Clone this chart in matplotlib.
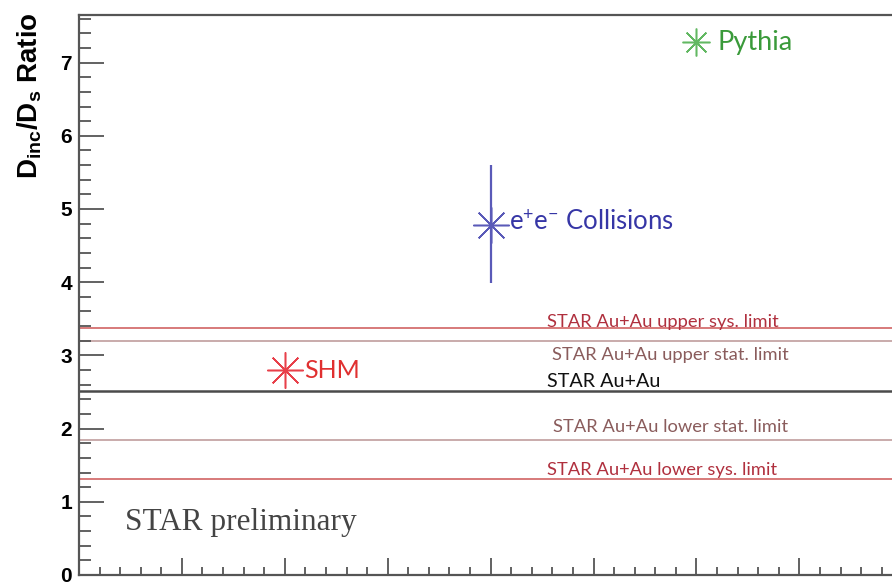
import matplotlib
matplotlib.use("Agg")
import matplotlib.pyplot as plt
from matplotlib.ticker import MultipleLocator, NullFormatter

plt.rcParams['mathtext.fontset'] = 'custom'
plt.rcParams['mathtext.rm'] = 'Lato'
plt.rcParams['mathtext.it'] = 'Lato:italic'
plt.rcParams['mathtext.bf'] = 'Liberation Sans:bold'

# ---- data ----
model_names = ["SHM", "e$^{+}$e$^{-}$ Collisions", "Pythia"]
model_x = [2.0, 4.0, 6.0]
model_y = [2.80, 4.78, 7.28]
model_err_lo = [0.0, 0.79, 0.0]
model_err_hi = [0.0, 0.82, 0.0]
model_colors = ["#e8404a", "#5a5ab8", "#62b862"]
model_text_colors = ["#e03030", "#3636a6", "#3a9a3a"]
model_marker_sizes = [26, 26, 20]

star_labels = ["STAR Au+Au upper sys. limit", "STAR Au+Au upper stat. limit",
               "STAR Au+Au", "STAR Au+Au lower stat. limit",
               "STAR Au+Au lower sys. limit"]
star_values = [3.37, 3.19, 2.51, 1.84, 1.31]
star_line_colors = ["#d77a7a", "#c9abab", "#4a4a4a", "#c9abab", "#d77a7a"]
star_text_colors = ["#b0303e", "#8a5c5c", "#111111", "#8a5c5c", "#b0303e"]
star_label_y = [3.39, 2.94, 2.57, 1.95, 1.37]
star_label_x = [4.55, 4.60, 4.55, 4.61, 4.55]
star_label_sizes = [13.2, 13.2, 14.2, 13.2, 13.2]

y_ticks = [0, 1, 2, 3, 4, 5, 6, 7]

fig = plt.figure(figsize=(8.92, 5.85), dpi=100)
ax = fig.add_axes([79/892, 10/585, 1 - 79/892, 560/585])
ax.set_xlim(0, 7.9)
ax.set_ylim(0, 7.65)

spine_c = "#555555"
for s in ['left', 'bottom', 'top']:
    ax.spines[s].set_color(spine_c)
    ax.spines[s].set_linewidth(1.6)
ax.spines['right'].set_visible(False)

ax.set_yticks(y_ticks)
ax.yaxis.set_minor_locator(MultipleLocator(0.2))
ax.xaxis.set_major_locator(MultipleLocator(1))
ax.xaxis.set_minor_locator(MultipleLocator(0.2))
ax.xaxis.set_major_formatter(NullFormatter())
ax.tick_params(axis='y', which='major', direction='in', length=18, width=1.3,
               color=spine_c, labelsize=15, pad=5, right=False)
ax.tick_params(axis='y', which='minor', direction='in', length=8.5, width=1.3,
               color=spine_c, right=False)
ax.tick_params(axis='x', which='major', direction='in', length=12, width=1.3,
               color=spine_c, top=False)
ax.tick_params(axis='x', which='minor', direction='in', length=6, width=1.3,
               color=spine_c, top=False)
for lab in ax.get_yticklabels():
    lab.set_fontfamily('Liberation Sans')
    lab.set_fontweight('bold')

# horizontal STAR lines
for v, c, lab, ty, tx, tc, fs in zip(star_values, star_line_colors, star_labels,
                                     star_label_y, star_label_x, star_text_colors,
                                     star_label_sizes):
    ax.axhline(v, color=c, lw=1.4 if c != "#4a4a4a" else 1.8, zorder=1)
    ax.text(tx, ty, lab, color=tc, fontsize=fs, family='Lato',
            ha='left', va='baseline', zorder=3)

# model points
for x, y, lo, hi, c, tc, ms, name in zip(model_x, model_y, model_err_lo, model_err_hi,
                                          model_colors, model_text_colors,
                                          model_marker_sizes, model_names):
    if lo > 0 or hi > 0:
        ax.errorbar([x], [y], yerr=[[lo], [hi]], fmt='none', ecolor=c,
                    elinewidth=1.6, capsize=0, zorder=4)
    ax.plot([x], [y], linestyle='none', marker=(8, 2, 0), markersize=ms,
            markeredgecolor=c, markeredgewidth=1.1, zorder=5)
    ax.plot([x], [y], linestyle='none', marker='o', markersize=3,
            color=c, zorder=5)

ax.text(2.19, 2.69, model_names[0], color=model_text_colors[0], fontsize=18,
        family='Lato', ha='left', va='baseline')
ax.text(4.18, 4.71, model_names[1], color=model_text_colors[1], fontsize=18.5,
        family='Lato', ha='left', va='baseline')
ax.text(6.20, 7.17, model_names[2], color=model_text_colors[2], fontsize=19.5,
        family='Lato', ha='left', va='baseline')

ax.text(0.45, 0.61, "STAR preliminary", color="#444444", fontsize=22.5,
        family='Liberation Serif', ha='left', va='baseline')

fig.text(30/892, 1 - 96/585, r"$\mathbf{D_{inc}/D_{s}}$ Ratio", rotation=90,
         fontsize=20, family='Liberation Sans', fontweight='bold',
         ha='center', va='center')

fig.savefig("out.png", dpi=100)
